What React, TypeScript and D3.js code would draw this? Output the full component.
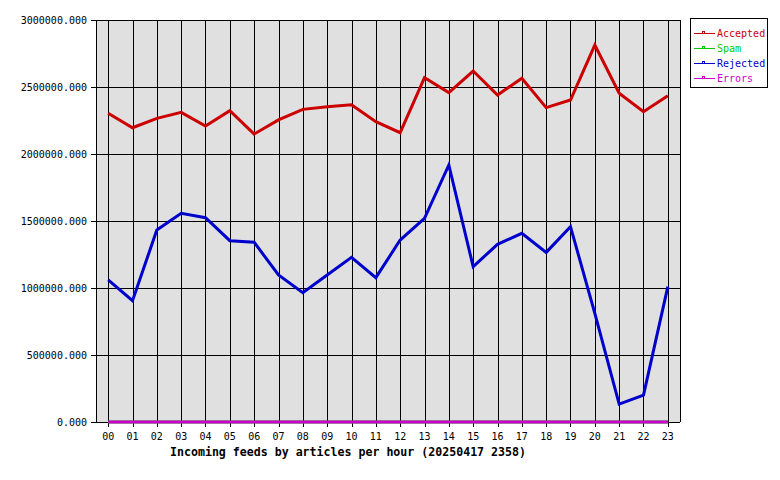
import React from "react";
import * as d3 from "d3";

const hours = ["00","01","02","03","04","05","06","07","08","09","10","11","12","13","14","15","16","17","18","19","20","21","22","23"];
const accepted = [2304000,2196000,2266000,2311000,2209000,2323000,2149000,2254000,2333000,2353000,2368000,2241000,2159000,2570000,2458000,2619000,2440000,2565000,2346000,2403000,2813000,2453000,2316000,2435000];
const spam = [0,0,0,0,0,0,0,0,0,0,0,0,0,0,0,0,0,0,0,0,0,0,0,0];
const rejected = [1060000,905000,1433000,1557000,1525000,1353000,1341000,1097000,965000,1097000,1229000,1077000,1358000,1520000,1918000,1159000,1326000,1408000,1266000,1458000,810000,134000,201000,1010000];
const errors = [0,0,0,0,0,0,0,0,0,0,0,0,0,0,0,0,0,0,0,0,0,0,0,0];
const yTicks = [0,500000,1000000,1500000,2000000,2500000,3000000];
const seriesNames = ["Accepted","Spam","Rejected","Errors"];
const seriesColors = ["#cc0000","#00cc00","#0000cc","#cc00cc"];
const title = "Incoming feeds by articles per hour (20250417 2358)";

export default function App() {
  const W = 780, H = 480;
  const left = 96, right = 680, top = 20, bottom = 422;
  const x = d3.scaleBand<string>().domain(hours).range([left, right]);
  const cx = (h: string) => (x(h) as number) + x.bandwidth() / 2;
  const y = d3.scaleLinear().domain([0, 3000000]).range([bottom, top]);
  const font = "'DejaVu Sans Mono', 'Liberation Mono', monospace";
  const data = [accepted, spam, rejected, errors];
  // draw order: accepted, rejected, spam, errors (errors on top)
  const order = [0, 2, 1, 3];
  const line = d3.line<number>().x((_, i) => cx(hours[i])).y((v) => y(v));

  return (
    <svg width={W} height={H} style={{ position: "absolute", left: 0, top: 0, background: "#fff" }}>
      <rect x={left} y={top} width={right - left} height={bottom - top} fill="#e0e0e0" />
      <g shapeRendering="crispEdges" stroke="#000" strokeWidth={1}>
        {yTicks.map((t) => (
          <line key={"hy" + t} x1={left - 5} x2={right} y1={Math.round(y(t)) + 0.5} y2={Math.round(y(t)) + 0.5} />
        ))}
        {hours.map((h) => (
          <line key={"vx" + h} x1={Math.round(cx(h)) + 0.5} x2={Math.round(cx(h)) + 0.5} y1={top} y2={bottom + 5} />
        ))}
        <line x1={left + 0.5} x2={left + 0.5} y1={top} y2={bottom} />
        <line x1={right + 0.5} x2={right + 0.5} y1={top} y2={bottom} />
      </g>
      {order.map((si) => (
        <path key={seriesNames[si]} d={line(data[si]) as string} fill="none" stroke={seriesColors[si]} strokeWidth={3} strokeLinejoin="miter" />
      ))}
      <g fontFamily={font} fontSize={10} fill="#000">
        {yTicks.map((t) => (
          <text key={"ty" + t} x={left - 9} y={y(t)} dy="0.35em" textAnchor="end">
            {d3.format(".3f")(t)}
          </text>
        ))}
        {hours.map((h) => (
          <text key={"tx" + h} x={cx(h)} y={436} dy="0.35em" textAnchor="middle">{h}</text>
        ))}
      </g>
      <text x={(left + right) / 2 - 40} y={452} dy="0.35em" textAnchor="middle" fontFamily={font} fontSize={11.6} fontWeight="bold" fill="#000">
        {title}
      </text>
      <g>
        <rect x={690.5} y={18.5} width={77} height={69} fill="#fff" stroke="#000" strokeWidth={1} shapeRendering="crispEdges" />
        {seriesNames.map((n, i) => {
          const ly = 33 + i * 15;
          return (
            <g key={n}>
              <line x1={694} x2={715} y1={ly + 0.5} y2={ly + 0.5} stroke={seriesColors[i]} strokeWidth={1} shapeRendering="crispEdges" />
              <rect x={702.5} y={ly - 1.5} width={2} height={2} fill="none" stroke={seriesColors[i]} strokeWidth={1} shapeRendering="crispEdges" />
              <text x={717} y={ly} dy="0.35em" fontFamily={font} fontSize={10} fill={seriesColors[i]}>{n}</text>
            </g>
          );
        })}
      </g>
    </svg>
  );
}
